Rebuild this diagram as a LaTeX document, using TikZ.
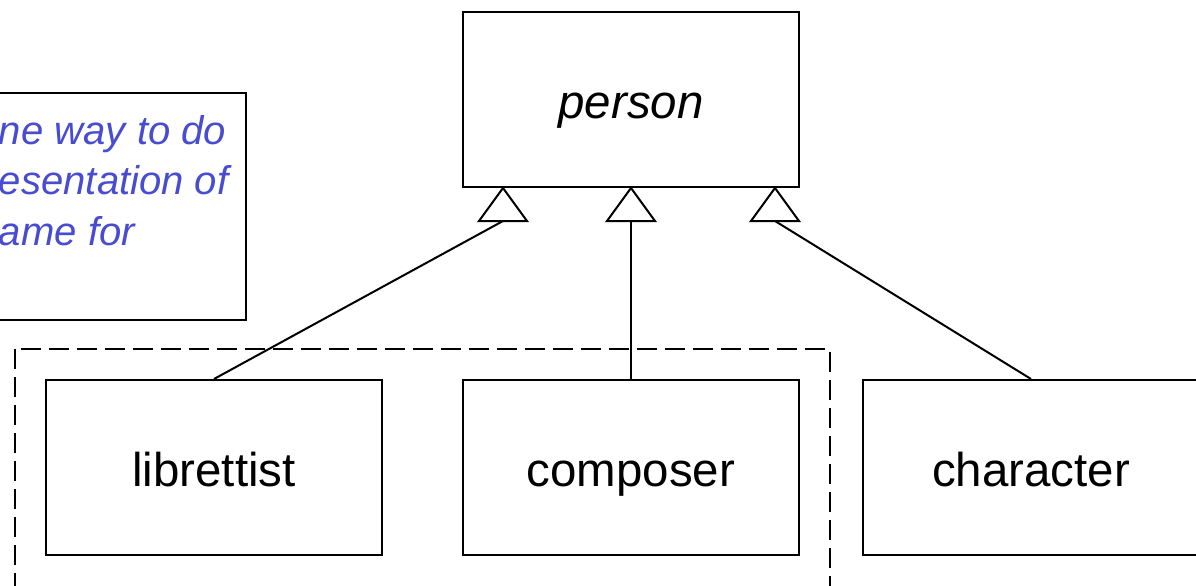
\documentclass[tikz,border=0pt]{standalone}
\usepackage{fontspec}
\setmainfont{Liberation Sans}
\usepackage{xcolor}
\usetikzlibrary{positioning, calc}
\definecolor{notetext}{RGB}{72,76,208}
\tikzstyle{classbox} = [rectangle, minimum width=6.72cm, minimum height=3.5cm, inner sep=0pt, text centered, text height=0.76cm, text depth=0cm, draw=black, line width=0.04cm, font={\fontsize{27pt}{32pt}\selectfont}]
\tikzstyle{notebox} = [rectangle, draw=black, line width=0.04cm, inner xsep=0.1cm, inner ysep=0.44cm, text=notetext, font={\fontsize{22.8pt}{29pt}\selectfont\itshape}]
\tikzstyle{group} = [draw=black, line width=0.04cm, dash pattern=on 0.4cm off 0.16cm]
\tikzstyle{gen} = [draw=black, line width=0.04cm]
\tikzstyle{genhead} = [draw=black, fill=white, line width=0.04cm, line join=miter]

\begin{document}
\begin{tikzpicture}[]
\useasboundingbox (0,0) rectangle (23.92,-11.72);
\clip (0,0) rectangle (23.92,-11.72);

%==============================================
%Nota
%==============================================
\node (note) [notebox, anchor=north east] at (4.94,-1.84) {\parbox[c][3.66cm][t]{4.84cm}{ne way to do\\esentation of\\ame for}};

%Grupo==============================================
\draw [group] (0.3,-6.98) rectangle (16.6,-12.5);

%Clases==============================================
\node (person) [classbox] at (12.62,-1.99) {\itshape person};
\node (composer) [classbox, below=3.82cm of person] {composer};
\node (librettist) [classbox, left=1.58cm of composer] {librettist};
\node (character) [classbox, right=1.24cm of composer] {character};

%Herencia==============================================
\coordinate (tri1) at ($(person.south)+(-2.56,0)$);
\coordinate (tri2) at ($(person.south)+(0,0)$);
\coordinate (tri3) at ($(person.south)+(2.88,0)$);
\foreach \t in {tri1,tri2,tri3}
	\coordinate (\t-b) at ($(\t)+(0,-0.66)$);

\draw [gen] (tri1-b) -- (librettist.north);
\draw [gen] (tri2-b) -- (composer.north);
\draw [gen] (tri3-b) -- (character.north);

\foreach \t in {tri1,tri2,tri3}
	\draw [genhead] (\t) -- ($(\t-b)+(-0.48,0)$) -- ($(\t-b)+(0.48,0)$) -- cycle;
\end{tikzpicture}
\end{document}
